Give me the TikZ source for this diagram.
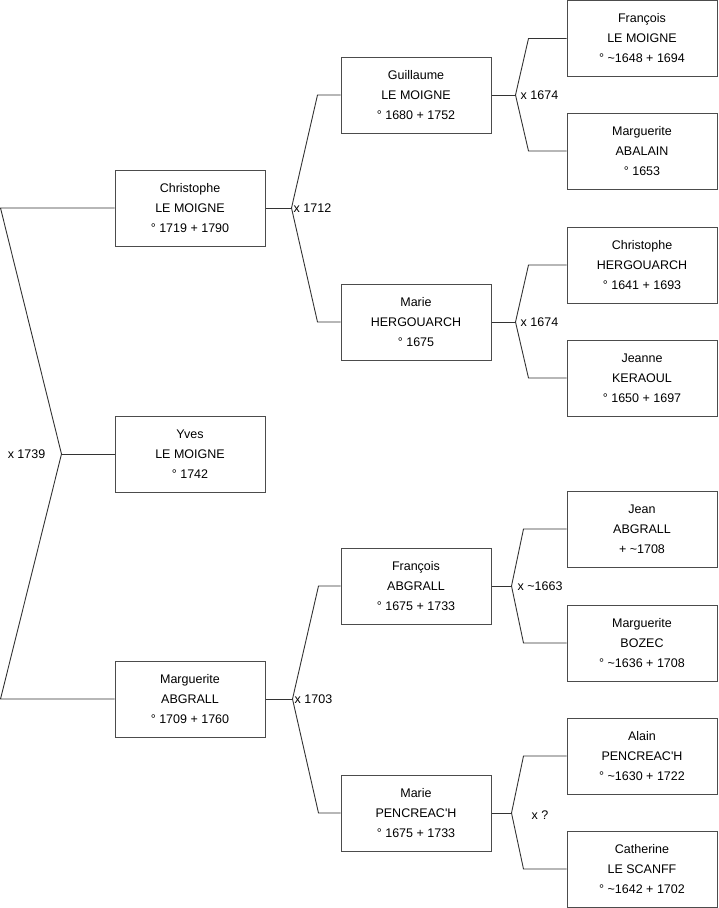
\documentclass[tikz,border=0pt]{standalone}
\usepackage{fontspec}
\setmainfont{Liberation Sans}
\usepackage{tikz}
\usetikzlibrary{positioning}

\begin{document}
\begin{tikzpicture}[
  x=1pt, y=-1pt,
  person/.style={rectangle, draw=black!70, line width=1pt, minimum width=150pt, minimum height=76pt,
    inner sep=0pt, align=center, font=\fontsize{12.5}{20}\selectfont},
  wed/.style={anchor=west, inner sep=2pt, font=\fontsize{12.5}{15}\selectfont},
  link/.style={draw=black!80, line width=0.9pt}
]
\useasboundingbox (0,0) rectangle (719,908);

% Yves and his parents
\node[person] (yves)  at (190,454) {Yves\\LE MOIGNE\\° 1742};
\node[person] (chris) at (190,208) {Christophe\\LE MOIGNE\\° 1719 + 1790};
\node[person] (margA) at (190,699) {Marguerite\\ABGRALL\\° 1709 + 1760};

% grandparents
\node[person] (guil)   at (416,95)  {Guillaume\\LE MOIGNE\\° 1680 + 1752};
\node[person] (marieH) at (416,322) {Marie\\HERGOUARCH\\° 1675};
\node[person] (franA)  at (416,586) {François\\ABGRALL\\° 1675 + 1733};
\node[person] (marieP) at (416,813) {Marie\\PENCREAC\textquotesingle H\\° 1675 + 1733};

% great-grandparents
\node[person] (franLM) at (642,38.5) {François\\LE MOIGNE\\° \textasciitilde1648 + 1694};
\node[person] (margAb) at (642,151)  {Marguerite\\ABALAIN\\° 1653};
\node[person] (chrisH) at (642,265)  {Christophe\\HERGOUARCH\\° 1641 + 1693};
\node[person] (jeanne) at (642,378)  {Jeanne\\KERAOUL\\° 1650 + 1697};
\node[person] (jean)   at (642,529)  {Jean\\ABGRALL\\+ \textasciitilde1708};
\node[person] (margB)  at (642,643)  {Marguerite\\BOZEC\\° \textasciitilde1636 + 1708};
\node[person] (alain)  at (642,756)  {Alain\\PENCREAC\textquotesingle H\\° \textasciitilde1630 + 1722};
\node[person] (cath)   at (642,869)  {Catherine\\LE SCANFF\\° \textasciitilde1642 + 1702};

% Yves -> parents
\coordinate (m0) at ([xshift=-53pt]yves.west);
\coordinate (chris-in) at ([xshift=-114pt]chris.west);
\coordinate (margA-in) at ([xshift=-114pt]margA.west);
\draw[link] (yves.west) -- (m0);
\draw[link] (chris.west) -- (chris-in) -- (m0) -- (margA-in) -- (margA.west);
\node[wed, anchor=east] (w0) at ([xshift=-14pt]m0) {x 1739};

% Christophe -> parents
\coordinate (m1) at ([xshift=26pt]chris.east);
\coordinate (guil-in) at ([xshift=-23pt]guil.west);
\coordinate (marieH-in) at ([xshift=-23pt]marieH.west);
\draw[link] (chris.east) -- (m1);
\draw[link] (guil.west) -- (guil-in) -- (m1) -- (marieH-in) -- (marieH.west);
\node[wed] (w1) at (m1) {x 1712};

% Marguerite -> parents
\coordinate (m2) at ([xshift=27pt]margA.east);
\coordinate (franA-in) at ([xshift=-22pt]franA.west);
\coordinate (marieP-in) at ([xshift=-22pt]marieP.west);
\draw[link] (margA.east) -- (m2);
\draw[link] (franA.west) -- (franA-in) -- (m2) -- (marieP-in) -- (marieP.west);
\node[wed] (w2) at (m2) {x 1703};

% Guillaume -> parents
\coordinate (m3) at ([xshift=24pt]guil.east);
\coordinate (franLM-in) at ([xshift=-38pt]franLM.west);
\coordinate (margAb-in) at ([xshift=-38pt]margAb.west);
\draw[link] (guil.east) -- (m3);
\draw[link] (franLM.west) -- (franLM-in) -- (m3) -- (margAb-in) -- (margAb.west);
\node[wed] (w3) at ([xshift=3pt]m3) {x 1674};

% Marie H. -> parents
\coordinate (m4) at ([xshift=24pt]marieH.east);
\coordinate (chrisH-in) at ([xshift=-38pt]chrisH.west);
\coordinate (jeanne-in) at ([xshift=-38pt]jeanne.west);
\draw[link] (marieH.east) -- (m4);
\draw[link] (chrisH.west) -- (chrisH-in) -- (m4) -- (jeanne-in) -- (jeanne.west);
\node[wed] (w4) at ([xshift=3pt]m4) {x 1674};

% François -> parents
\coordinate (m5) at ([xshift=20pt]franA.east);
\coordinate (jean-in) at ([xshift=-43pt]jean.west);
\coordinate (margB-in) at ([xshift=-43pt]margB.west);
\draw[link] (franA.east) -- (m5);
\draw[link] (jean.west) -- (jean-in) -- (m5) -- (margB-in) -- (margB.west);
\node[wed] (w5) at ([xshift=4pt]m5) {x \textasciitilde1663};

% Marie P. -> parents
\coordinate (m6) at ([xshift=20pt]marieP.east);
\coordinate (alain-in) at ([xshift=-43pt]alain.west);
\coordinate (cath-in) at ([xshift=-43pt]cath.west);
\draw[link] (marieP.east) -- (m6);
\draw[link] (alain.west) -- (alain-in) -- (m6) -- (cath-in) -- (cath.west);
\node[wed] (w6) at ([xshift=18pt,yshift=-2pt]m6) {x ?};

\end{tikzpicture}
\end{document}
